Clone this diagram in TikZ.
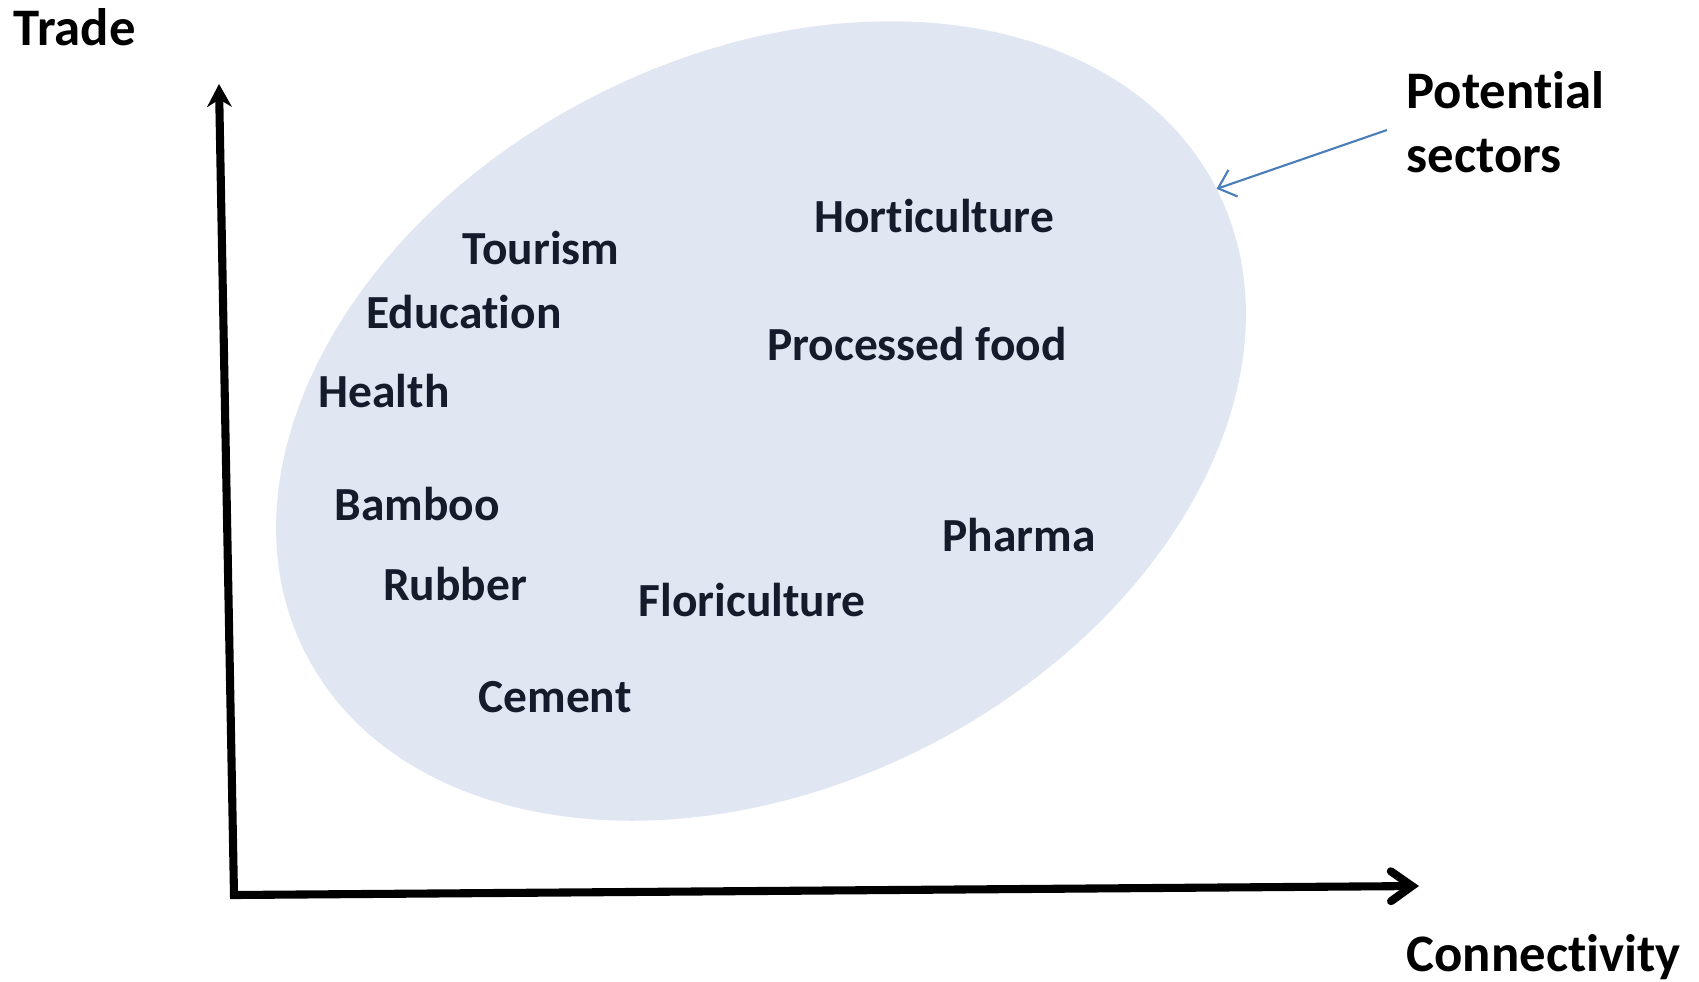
\documentclass[tikz,border=0pt]{standalone}
\usepackage{fontspec}
\setmainfont{Carlito}[Ligatures={NoCommon,NoRequired,NoContextual}, RawFeature={-liga;-clig;-calt;-dlig}]
\usetikzlibrary{arrows.meta,shapes.geometric}
\definecolor{sectorfill}{HTML}{E0E7F2}
\definecolor{sectortext}{HTML}{161B2B}
\definecolor{pointerblue}{HTML}{4A7EBB}
\tikzset{
  sectorlabel/.style={font=\fontsize{13.5}{16}\selectfont\bfseries, text=sectortext, text height=1.38ex, text depth=0pt, inner sep=0pt},
  axislabel/.style={font=\fontsize{15}{18}\selectfont\bfseries, align=left, inner sep=0pt}
}
\begin{document}
\begin{tikzpicture}[x=0.01cm, y=-0.01cm]
        \useasboundingbox (0,0) rectangle (1699,981);

        % Draw sector ellipse
        \node[ellipse, fill=sectorfill, rotate=27, minimum width=10.22cm, minimum height=7.3cm, inner sep=0pt, outer sep=0pt] (sectors) at (761,421) {};

        % Draw axes
        \coordinate (origin) at (234,895);
        \coordinate (ytop) at (219,84);
        \coordinate (xend) at (1419,886);
        \draw[line width=2.3pt, line join=miter, {Stealth[length=6.5pt, width=7pt]}-{Straight Barb[length=6pt, width=8.5pt, line cap=round]}] (ytop) -- (origin) -- (xend);

        % Axis labels
        \node[axislabel, anchor=base west] (trade) at (13,45) {Trade};
        \node[axislabel, anchor=base west] (connectivity) at (1406,971) {Connectivity};
        \node[axislabel, anchor=base west] (potential) at (1406,172) {Potential\\sectors};

        % Draw pointer
        \coordinate (pointer) at (1387,130);
        \draw[pointerblue, line width=0.6pt, -{Straight Barb[length=4.5pt, width=8pt]}] (pointer) -- (sectors.east);

        % Sector names
        \node[sectorlabel] (tourism) at (541,253) {Tourism};
        \node[sectorlabel] (horticulture) at (934,221) {Horticulture};
        \node[sectorlabel] (education) at (464,317) {Education};
        \node[sectorlabel] (processed) at (917,349) {Processed food};
        \node[sectorlabel] (health) at (384,396) {Health};
        \node[sectorlabel] (bamboo) at (417,509) {Bamboo};
        \node[sectorlabel] (pharma) at (1019,540) {Pharma};
        \node[sectorlabel] (rubber) at (455,589) {Rubber};
        \node[sectorlabel] (floriculture) at (752,605) {Floriculture};
        \node[sectorlabel] (cement) at (555,701) {Cement};
\end{tikzpicture}
\end{document}
